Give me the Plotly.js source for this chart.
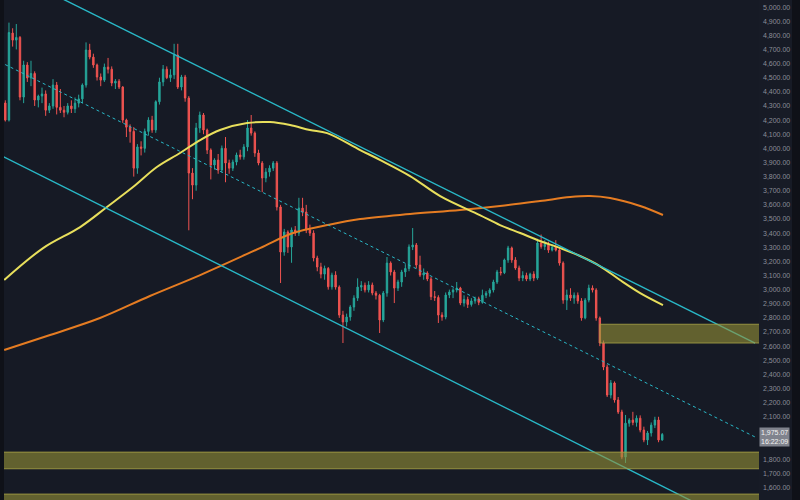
<!DOCTYPE html>
<html>
<head>
<meta charset="utf-8">
<script src="https://cdn.plot.ly/plotly-3.0.1.min.js"></script>
<style>html,body{margin:0;padding:0;background:#161a25;}#chart{width:800px;height:500px;}</style>
</head>
<body>
<div id="chart"></div>
<script>
// Candle OHLC values (one per bar, left to right)
const openP = [4321,4200,4816,4766,4785,4363,4590,4498,4530,4342,4370,4385,4270,4300,4448,4290,4270,4255,4300,4280,
4320,4350,4448,4696,4646,4590,4505,4483,4575,4560,4462,4475,4434,4200,4150,4120,3860,4010,4000,4120,
4200,4130,4330,4470,4560,4500,4520,4660,4434,4505,4356,3825,3740,4144,4236,4130,3988,3882,3917,3846,
4000,3896,3860,3903,3953,3940,4010,4144,4108,3967,3896,3790,3832,3860,3896,3585,3266,3408,3302,3422,
3400,3577,3549,3422,3400,3224,3160,3110,3150,3020,3103,3018,2820,2771,2806,2877,2940,3018,3030,2998,
3033,2976,2960,2785,2976,3188,3125,3011,3054,3125,3150,3302,3316,3174,3103,3118,3075,2950,2945,2820,
2806,2962,2983,2997,3011,2905,2930,2895,2920,2935,2910,2960,2975,2997,3054,3125,3120,3210,3295,3210,
3153,3082,3100,3075,3110,3082,3330,3305,3320,3280,3300,3280,3188,2926,2962,2940,2960,2920,2800,2926,
3011,2997,2799,2622,2452,2254,2339,2219,2134,1815,2055,2077,2060,2090,2006,1936,1985,2041,2077,1936];
const highP = [4340,4890,4850,4880,4795,4620,4610,4620,4545,4380,4430,4410,4320,4490,4470,4420,4300,4320,4340,4360,
4380,4460,4750,4740,4670,4600,4530,4600,4640,4580,4490,4490,4440,4210,4170,4150,4030,4050,4140,4220,
4230,4340,4500,4590,4580,4560,4740,4740,4520,4520,4370,3860,4180,4260,4250,4140,4000,3930,3960,4020,
4080,3920,3920,3970,3990,4030,4200,4236,4120,3990,3910,3860,3880,3910,3910,3600,3430,3420,3440,3450,
3650,3650,3600,3460,3420,3240,3190,3170,3160,3120,3130,3030,2850,2830,2890,2960,3080,3060,3050,3060,
3050,2990,2970,2990,3231,3200,3140,3070,3140,3180,3320,3436,3330,3240,3150,3130,3090,2990,2960,2840,
2980,3000,3010,3054,3020,2960,2950,2940,2950,2950,3000,2990,3010,3070,3140,3160,3220,3310,3305,3230,
3170,3130,3120,3120,3130,3360,3390,3350,3340,3320,3350,3300,3200,3000,3010,2980,2980,2940,2940,3035,
3030,3010,2810,2640,2470,2360,2350,2240,2150,2113,2090,2135,2110,2110,2030,2000,2060,2100,2100,1985];
const lowP = [4190,4190,4720,4700,4340,4320,4470,4440,4300,4290,4320,4230,4250,4280,4240,4250,4220,4240,4250,4250,
4290,4320,4430,4630,4570,4480,4440,4470,4530,4440,4420,4420,4180,4080,4040,3800,3820,3950,3970,4090,
4110,4110,4310,4440,4490,4470,4490,4420,4410,4330,3420,3640,3700,4110,4100,3960,3780,3850,3820,3830,
3760,3820,3840,3880,3920,3920,3980,4090,3940,3880,3690,3760,3800,3840,3560,3047,3240,3260,3190,3380,
3380,3520,3400,3380,3200,3130,3080,3070,3000,3000,3000,2800,2622,2740,2780,2850,2920,2990,2980,2980,
2960,2930,2693,2770,2950,3100,2905,2990,3020,3090,3130,3280,3150,3090,3070,3060,2926,2920,2764,2780,
2790,2940,2940,2980,2890,2880,2870,2880,2900,2890,2900,2940,2950,2980,3040,3100,3110,3190,3190,3140,
3060,3060,3060,3060,3060,3070,3290,3280,3260,3270,3270,3170,2900,2856,2920,2900,2900,2780,2790,2910,
2980,2780,2600,2430,2240,2230,2200,2120,1800,1773,2030,2040,2030,1990,1920,1900,1960,2020,1920,1930];
const closeP = [4200,4820,4766,4785,4363,4590,4498,4530,4342,4370,4385,4270,4300,4448,4290,4270,4255,4300,4280,4320,
4350,4448,4696,4646,4590,4505,4483,4575,4560,4462,4475,4434,4200,4150,4120,3860,4010,4000,4120,4200,
4130,4330,4470,4560,4500,4520,4660,4434,4505,4356,3825,3740,4144,4236,4130,3988,3882,3917,3846,4000,
3896,3860,3903,3953,3940,4010,4144,4108,3967,3896,3790,3832,3860,3896,3585,3266,3408,3302,3422,3400,
3577,3549,3422,3400,3224,3160,3110,3150,3020,3103,3018,2820,2771,2806,2877,2940,3018,3030,2998,3033,
2976,2960,2785,2976,3188,3125,3011,3054,3125,3150,3302,3316,3174,3103,3118,3075,2950,2945,2820,2806,
2962,2983,2997,3011,2905,2930,2895,2920,2935,2910,2960,2975,2997,3054,3125,3120,3210,3295,3210,3153,
3082,3100,3075,3110,3082,3330,3305,3320,3280,3300,3280,3188,2926,2962,2940,2960,2920,2800,2926,3011,
2997,2799,2622,2452,2254,2339,2219,2134,1815,2055,2077,2060,2090,2006,1936,1985,2041,2077,1936,1975.07];

// Moving averages (bar index, price)
const fastMaX = [-0.3,10.3,20.4,27.7,34.8,41.3,47.6,53.1,58.5,65.9,72.1,77.6,83.0,87.7,96.7,102.2,110.3,118.5,129.3,134.8,140.3,145.7,151.2,156.6,162.0,167.5,173.0,179.2];
const fastMaY = [3068,3294,3443,3585,3726,3868,3967,4059,4130,4179,4186,4165,4130,4108,3988,3917,3804,3662,3528,3457,3401,3344,3294,3238,3167,3068,2976,2891];
const slowMaX = [-0.3,12.2,25.8,39.4,53.1,69.4,78.4,87.7,96.7,110.3,123.9,134.8,145.7,153.9,159.3,164.8,173.0,179.2];
const slowMaY = [2573,2679,2799,2955,3103,3294,3401,3457,3500,3535,3563,3592,3627,3655,3662,3648,3592,3528];

// Channel lines (bar index, price)
const upperX = [-2, 204.3], upperY = [5285, 2622];
const midX = [-1.5, 204.3], midY = [4612, 1957];
const lowerX = [-2, 204], lowerY = [3960, 1284];

// Horizontal zones (start bar, top, bottom)
const zoneStart = [162.0, -3, -3];
const zoneTop = [2755, 1850, 1553];
const zoneBottom = [2622, 1732, 1400];

// Price-scale ticks shown (2,000 and 1,900 sit under the last-price tag)
const tickVals = [5000,4900,4800,4700,4600,4500,4400,4300,4200,4100,4000,3900,3800,3700,3600,3500,3400,3300,3200,3100,
3000,2900,2800,2700,2600,2500,2400,2300,2200,2100,1800,1700,1600];
const tickText = ['5,000.00','4,900.00','4,800.00','4,700.00','4,600.00','4,500.00','4,400.00','4,300.00','4,200.00','4,100.00',
'4,000.00','3,900.00','3,800.00','3,700.00','3,600.00','3,500.00','3,400.00','3,300.00','3,200.00','3,100.00',
'3,000.00','2,900.00','2,800.00','2,700.00','2,600.00','2,500.00','2,400.00','2,300.00','2,200.00','2,100.00',
'1,800.00','1,700.00','1,600.00'];

const lastPrice = 1975.07;
const lastLabel = ['1,975.07', '16:22:09'];

const idx = closeP.map((_, i) => i);
const XMIN = -1.444, XMAX = 205.37;

const traces = [
  {type:'scatter', mode:'lines', x:slowMaX, y:slowMaY, line:{color:'#e57c22', width:2, shape:'spline', smoothing:1}, hoverinfo:'skip'},
  {type:'scatter', mode:'lines', x:fastMaX, y:fastMaY, line:{color:'#e8df5c', width:2, shape:'spline', smoothing:1}, hoverinfo:'skip'},
  {type:'candlestick', x:idx, open:openP, high:highP, low:lowP, close:closeP,
   increasing:{line:{color:'#26a69a', width:1}, fillcolor:'#26a69a'},
   decreasing:{line:{color:'#ef5350', width:1}, fillcolor:'#ef5350'},
   whiskerwidth:0, hoverinfo:'skip'},
  {type:'scatter', mode:'lines', x:upperX, y:upperY, line:{color:'#29b8c7', width:1.4}, hoverinfo:'skip'},
  {type:'scatter', mode:'lines', x:lowerX, y:lowerY, line:{color:'#29b8c7', width:1.4}, hoverinfo:'skip'},
  {type:'scatter', mode:'lines', x:midX, y:midY, line:{color:'#29b8c7', width:1, dash:'dot'}, hoverinfo:'skip'}
];

const shapes = zoneTop.map((t, k) => ({
  type:'rect', xref:'x', yref:'y', x0:zoneStart[k], x1:XMAX + 5, y0:zoneBottom[k], y1:t,
  fillcolor:'rgba(150,145,55,0.6)', line:{color:'rgba(170,165,70,0.8)', width:1}, layer:'above'
}));
shapes.push({type:'rect', xref:'paper', yref:'paper', x0:-0.01, x1:4/759, y0:0, y1:1, fillcolor:'#0f1118', line:{width:0}, layer:'above'});
shapes.push({type:'rect', xref:'paper', yref:'paper', x0:792/759, x1:1.1, y0:0, y1:1, fillcolor:'#0f1118', line:{width:0}, layer:'above'});

const layout = {
  width:800, height:500,
  margin:{l:0, r:41, t:0, b:0, pad:0},
  paper_bgcolor:'#171b26', plot_bgcolor:'#161a25',
  showlegend:false, boxgap:0.45,
  font:{family:'Liberation Sans, Arial, sans-serif', color:'#8b8e98', size:7},
  xaxis:{range:[XMIN, XMAX], visible:false, showgrid:false, zeroline:false, rangeslider:{visible:false}, fixedrange:true},
  yaxis:{side:'right', range:[1511, 5050], tickmode:'array', tickvals:tickVals, ticktext:tickText, showgrid:false, zeroline:false,
         showline:false, ticks:'', ticklabelstandoff:3, tickfont:{size:7, color:'#8b8e98'}, fixedrange:true},
  shapes: shapes,
  annotations:[{xref:'paper', yref:'y', x:1, y:lastPrice, xanchor:'left', yanchor:'middle', xshift:0, yshift:-3,
    text:lastLabel.join('<br>'), showarrow:false, align:'left', bgcolor:'#80838d', borderpad:1,
    font:{size:7, color:'#f2f2f2', family:'Liberation Sans, Arial, sans-serif'}}]
};

Plotly.newPlot('chart', traces, layout, {displayModeBar:false, staticPlot:true});
</script>
</body>
</html>
